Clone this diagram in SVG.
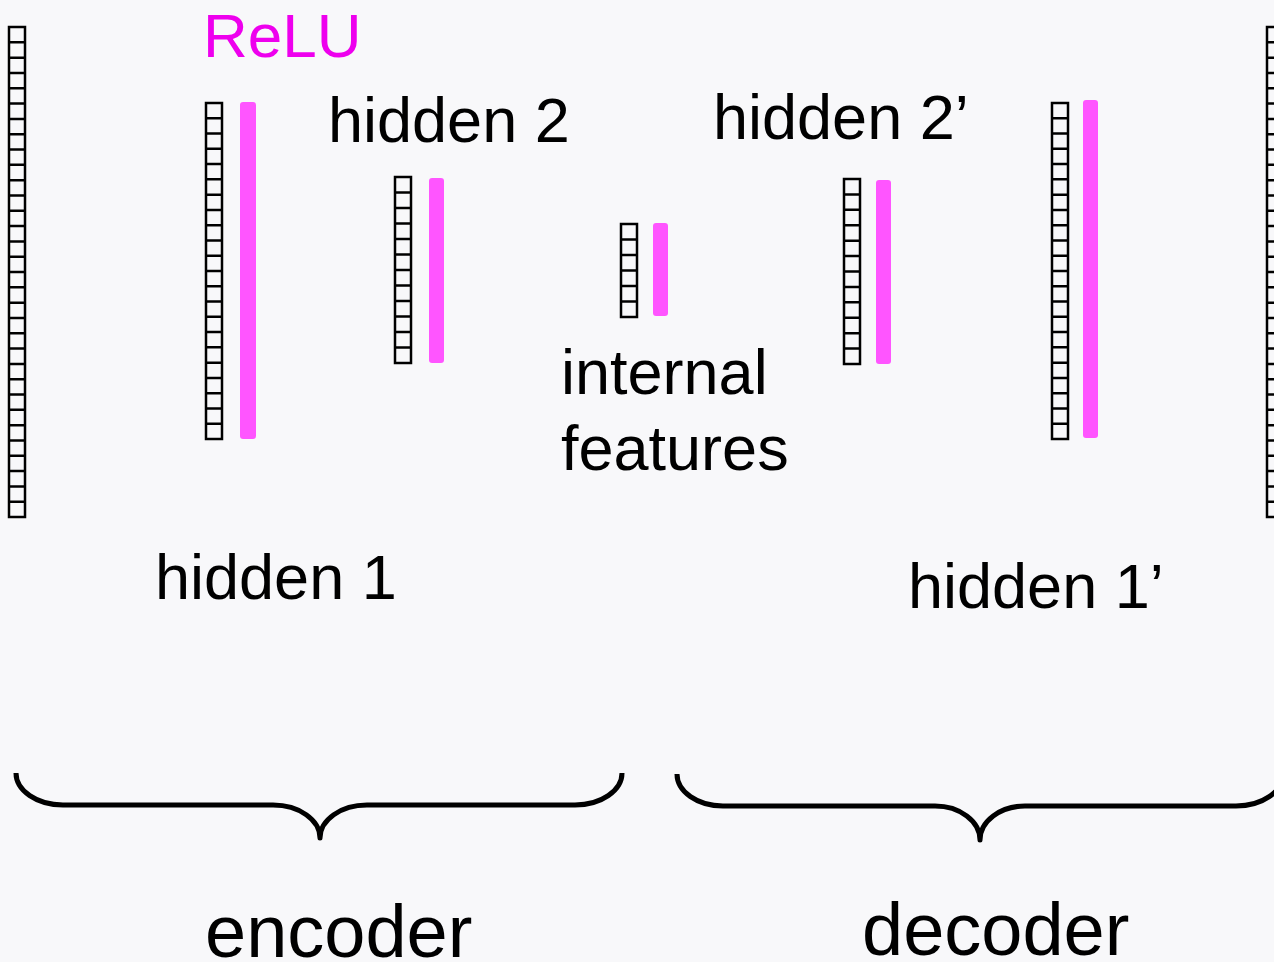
<svg xmlns="http://www.w3.org/2000/svg" width="1274" height="962" viewBox="0 0 1274 962">
<style>
.cell{fill:none;stroke:#000;stroke-width:2.5}
.bar{fill:#ff55ff}
.lbl{font-family:"Liberation Sans",Arial,sans-serif;font-size:63px;fill:#000}
.big{font-family:"Liberation Sans",Arial,sans-serif;font-size:74px;fill:#000}
.brace{fill:none;stroke:#000;stroke-width:5;stroke-linejoin:round}
</style>
<rect width="1274" height="962" fill="#f8f8fa"/>
<g id="input">
<rect class="cell" x="9" y="27" width="16" height="490"/>
<path class="cell" d="M9 42.31H25M9 57.63H25M9 72.94H25M9 88.25H25M9 103.56H25M9 118.88H25M9 134.19H25M9 149.5H25M9 164.81H25M9 180.13H25M9 195.44H25M9 210.75H25M9 226.06H25M9 241.38H25M9 256.69H25M9 272H25M9 287.31H25M9 302.63H25M9 317.94H25M9 333.25H25M9 348.56H25M9 363.88H25M9 379.19H25M9 394.5H25M9 409.81H25M9 425.13H25M9 440.44H25M9 455.75H25M9 471.06H25M9 486.38H25M9 501.69H25"/>
</g>
<g id="hidden1">
<rect class="cell" x="206" y="103" width="16" height="336"/>
<path class="cell" d="M206 118.27H222M206 133.55H222M206 148.82H222M206 164.09H222M206 179.36H222M206 194.64H222M206 209.91H222M206 225.18H222M206 240.45H222M206 255.73H222M206 271H222M206 286.27H222M206 301.55H222M206 316.82H222M206 332.09H222M206 347.36H222M206 362.64H222M206 377.91H222M206 393.18H222M206 408.45H222M206 423.73H222"/>
<rect class="bar" x="240" y="102" width="16" height="337" rx="3"/>
<text class="lbl" x="155" y="599">hidden 1</text>
</g>
<g id="relu">
<text x="203" y="57" font-family="Liberation Sans, Arial, sans-serif" font-size="62" fill="#ee00ee">ReLU</text>
</g>
<g id="hidden2">
<rect class="cell" x="395" y="177" width="16" height="186"/>
<path class="cell" d="M395 192.5H411M395 208H411M395 223.5H411M395 239H411M395 254.5H411M395 270H411M395 285.5H411M395 301H411M395 316.5H411M395 332H411M395 347.5H411"/>
<rect class="bar" x="429" y="178" width="15" height="185" rx="3"/>
<text class="lbl" x="328" y="142">hidden 2</text>
</g>
<g id="internal">
<rect class="cell" x="621" y="224" width="16" height="93"/>
<path class="cell" d="M621 239.5H637M621 255H637M621 270.5H637M621 286H637M621 301.5H637"/>
<rect class="bar" x="653" y="223" width="15" height="93" rx="3"/>
<text class="lbl" x="561" y="394">internal</text>
<text class="lbl" x="561" y="470">features</text>
</g>
<g id="hidden2p">
<rect class="cell" x="844" y="179" width="16" height="185"/>
<path class="cell" d="M844 194.42H860M844 209.83H860M844 225.25H860M844 240.67H860M844 256.08H860M844 271.5H860M844 286.92H860M844 302.33H860M844 317.75H860M844 333.17H860M844 348.58H860"/>
<rect class="bar" x="876" y="180" width="15" height="184" rx="3"/>
<text class="lbl" x="713" y="139">hidden 2’</text>
</g>
<g id="hidden1p">
<rect class="cell" x="1052" y="103" width="16" height="336"/>
<path class="cell" d="M1052 118.27H1068M1052 133.55H1068M1052 148.82H1068M1052 164.09H1068M1052 179.36H1068M1052 194.64H1068M1052 209.91H1068M1052 225.18H1068M1052 240.45H1068M1052 255.73H1068M1052 271H1068M1052 286.27H1068M1052 301.55H1068M1052 316.82H1068M1052 332.09H1068M1052 347.36H1068M1052 362.64H1068M1052 377.91H1068M1052 393.18H1068M1052 408.45H1068M1052 423.73H1068"/>
<rect class="bar" x="1083" y="100" width="15" height="338" rx="3"/>
<text class="lbl" x="908" y="608">hidden 1’</text>
</g>
<g id="output">
<rect class="cell" x="1267" y="27" width="16" height="490"/>
<path class="cell" d="M1267 42.31H1283M1267 57.63H1283M1267 72.94H1283M1267 88.25H1283M1267 103.56H1283M1267 118.88H1283M1267 134.19H1283M1267 149.5H1283M1267 164.81H1283M1267 180.13H1283M1267 195.44H1283M1267 210.75H1283M1267 226.06H1283M1267 241.38H1283M1267 256.69H1283M1267 272H1283M1267 287.31H1283M1267 302.63H1283M1267 317.94H1283M1267 333.25H1283M1267 348.56H1283M1267 363.88H1283M1267 379.19H1283M1267 394.5H1283M1267 409.81H1283M1267 425.13H1283M1267 440.44H1283M1267 455.75H1283M1267 471.06H1283M1267 486.38H1283M1267 501.69H1283"/>
</g>
<g id="encoder">
<path class="brace" d="M16 773C16 790.7 37 805 63 805H273C299 805 320 819.8 320 838C320 819.8 341 805 367 805H575C601 805 622 790.7 622 773"/>
<text class="big" x="205" y="957">encoder</text>
</g>
<g id="decoder">
<path class="brace" d="M677 774C677 791.7 697.6 806 723 806H935C959.8 806 980 821.2 980 840C980 821.2 1000.2 806 1025 806H1236C1262 806 1283 791.7 1283 774"/>
<text class="big" x="862" y="955">decoder</text>
</g>
</svg>
